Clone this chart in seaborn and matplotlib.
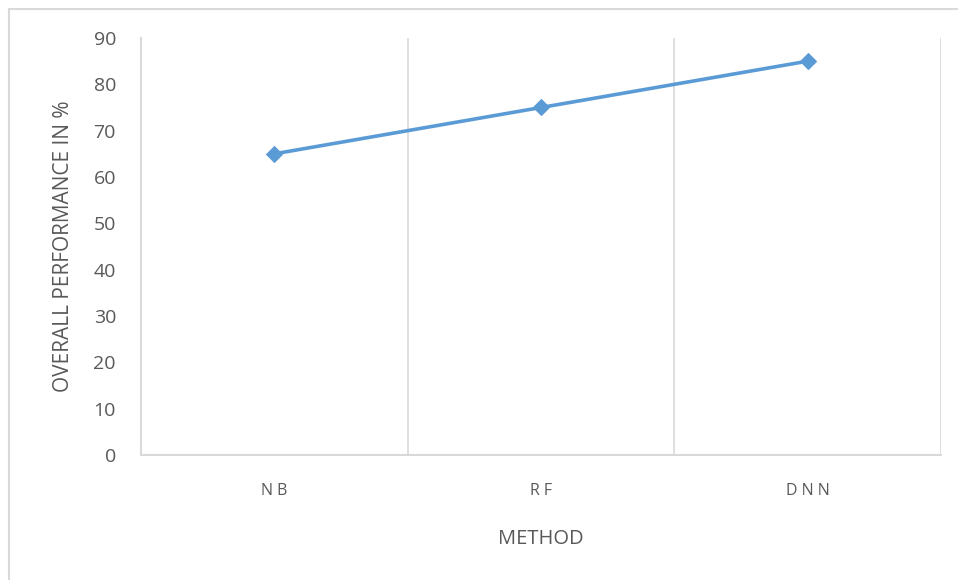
import matplotlib.pyplot as plt
import matplotlib.patches as mpatches
import pandas as pd
import seaborn as sns

methods = ['N B', 'R F', 'D N N']
performance = [65, 75, 85]
y_ticks = [0, 10, 20, 30, 40, 50, 60, 70, 80, 90]

df = pd.DataFrame({'method': methods, 'performance': performance})

sns.set_style('white')
plt.rcParams['font.family'] = ['Open Sans', 'DejaVu Sans']

fig = plt.figure(figsize=(9.58, 5.8), dpi=100)
ax = fig.add_axes([141/958, 1-455/580, 800/958, 417/580])

# chart frame
fig.patches.append(mpatches.Rectangle((9/958, -0.02), 1.0, 1-9/580+0.02, transform=fig.transFigure,
                                      fill=False, edgecolor='#d9d9d9', linewidth=1.5))

sns.lineplot(data=df, x='method', y='performance', ax=ax, color='#5b9bd5',
             linewidth=2.6, marker='D', markersize=8, markeredgecolor='#5b9bd5',
             sort=False)

ax.set_xlim(-0.5, 2.5)
ax.set_ylim(0, 90)
ax.set_yticks(y_ticks)
for xv in [0.5, 1.5, 2.5]:
    ax.axvline(xv, color='#d9d9d9', linewidth=1.2, zorder=0)

for side in ['top', 'right']:
    ax.spines[side].set_visible(False)
for side in ['left', 'bottom']:
    ax.spines[side].set_color('#d9d9d9')
    ax.spines[side].set_linewidth(1.5)

ax.tick_params(axis='y', length=0, pad=18, labelsize=14, labelcolor='#595959')
ax.tick_params(axis='x', length=0, pad=20, labelsize=11.5, labelcolor='#595959')

ax.set_xlabel('METHOD', fontsize=14.5, color='#595959', labelpad=22)
ax.set_ylabel('OVERALL PERFORMANCE IN %', fontsize=15, color='#595959', labelpad=14)

fig.savefig('out.png', dpi=100)
